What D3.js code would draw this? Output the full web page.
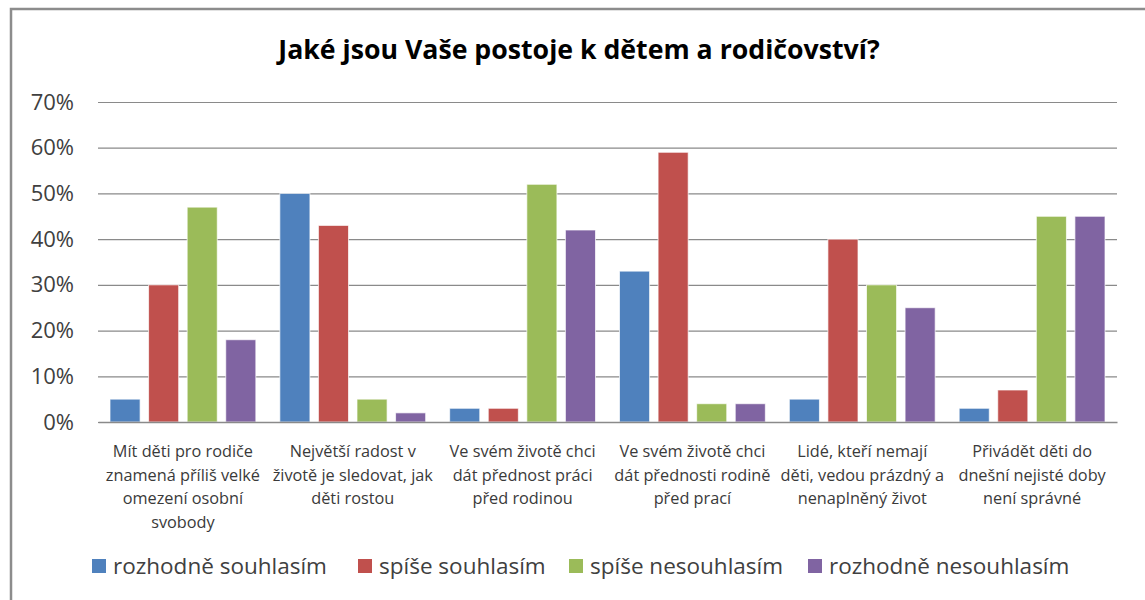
<!DOCTYPE html>
<html>
<head>
<meta charset="utf-8">
<script src="https://cdn.jsdelivr.net/npm/d3@7"></script>
<style>
  body { margin: 0; background: #fff; }
  svg { display: block; font-family: "Open Sans", Lato, sans-serif; }
</style>
</head>
<body>
<svg id="chart" width="1145" height="600"></svg>
<script>
// chart data
const title = "Jaké jsou Vaše postoje k dětem a rodičovství?";
const categories = [
    "Mít děti pro rodiče\nznamená příliš velké\nomezení osobní\nsvobody",
    "Největší radost v\nživotě je sledovat, jak\nděti rostou",
    "Ve svém životě chci\ndát přednost práci\npřed rodinou",
    "Ve svém životě chci\ndát přednosti rodině\npřed prací",
    "Lidé, kteří nemají\nděti, vedou prázdný a\nnenaplněný život",
    "Přivádět děti do\ndnešní nejisté doby\nnení správné"
];
const seriesNames = ["rozhodně souhlasím", "spíše souhlasím", "spíše nesouhlasím", "rozhodně nesouhlasím"];
const rozhodneSouhlasim   = [0.05, 0.50, 0.03, 0.33, 0.05, 0.03];
const spiseSouhlasim      = [0.30, 0.43, 0.03, 0.59, 0.40, 0.07];
const spiseNesouhlasim    = [0.47, 0.05, 0.52, 0.04, 0.30, 0.45];
const rozhodneNesouhlasim = [0.18, 0.02, 0.42, 0.04, 0.25, 0.45];
const yTicks = [0, 0.1, 0.2, 0.3, 0.4, 0.5, 0.6, 0.7];

const seriesValues = [rozhodneSouhlasim, spiseSouhlasim, spiseNesouhlasim, rozhodneNesouhlasim];
const colors = ["#4F81BD", "#C0504D", "#9BBB59", "#8064A2"];

const margin = {top: 102, right: 28, bottom: 178, left: 98};
const W = 1145, H = 600;
const width = W - margin.left - margin.right;
const height = H - margin.top - margin.bottom;

const svg = d3.select("#chart");

// outer chart border (runs off the right and bottom edges)
svg.append("path")
    .attr("d", "M11,620 L11,9 L1160,9")
    .attr("fill", "none")
    .attr("stroke", "#8c8c8c")
    .attr("stroke-width", 2.5);

svg.append("text")
    .attr("x", 579)
    .attr("y", 59)
    .attr("text-anchor", "middle")
    .attr("font-size", 26.7)
    .attr("font-weight", "bold")
    .attr("fill", "#000")
    .text(title);

const g = svg.append("g")
    .attr("transform", `translate(${margin.left},${margin.top})`);

const x0 = d3.scaleBand().domain(d3.range(categories.length)).range([0, width]);
const x1 = d3.scaleBand().domain(d3.range(seriesNames.length))
    .range([12, x0.bandwidth() - 12]).paddingInner(0.22);
const y = d3.scaleLinear().domain([0, 0.7]).range([height, 0]);

// gridlines
g.append("g")
    .call(d3.axisLeft(y).tickValues(yTicks).tickSize(-width).tickFormat(""))
    .call(s => s.select(".domain").remove())
    .call(s => s.selectAll("line").attr("stroke", "#8a8a8a").attr("stroke-width", 1.2));

// y tick labels
g.append("g")
    .call(d3.axisLeft(y).tickValues(yTicks).tickSize(0).tickPadding(24).tickFormat(d3.format(".0%")))
    .call(s => s.select(".domain").remove())
    .call(s => s.selectAll("text")
        .attr("font-family", "'Open Sans', sans-serif")
        .attr("font-size", 22)
        .attr("fill", "#404040"));

// bars
const groups = g.selectAll(".grp")
    .data(categories)
    .join("g")
    .attr("class", "grp")
    .attr("transform", (d, i) => `translate(${x0(i)},0)`);

groups.selectAll("rect")
    .data((d, i) => seriesValues.map((vals, s) => ({s: s, v: vals[i]})))
    .join("rect")
    .attr("x", d => x1(d.s))
    .attr("width", x1.bandwidth())
    .attr("y", d => y(d.v))
    .attr("height", d => height - y(d.v))
    .attr("fill", d => colors[d.s])
    .attr("stroke", "#fff")
    .attr("stroke-opacity", 0.7)
    .attr("stroke-width", 1);

// x axis line
g.append("g")
    .attr("transform", `translate(0,${height})`)
    .call(d3.axisBottom(x0).tickSize(0).tickFormat(""))
    .call(s => s.select(".domain").attr("stroke", "#8a8a8a").attr("stroke-width", 1.5));

// category labels
const labels = g.selectAll(".cat")
    .data(categories)
    .join("text")
    .attr("class", "cat")
    .attr("text-anchor", "middle")
    .attr("font-size", 16.3)
    .attr("fill", "#3a3a3a")
    .attr("transform", (d, i) => `translate(${x0(i) + x0.bandwidth() / 2},${height + 35})`);
labels.selectAll("tspan")
    .data(d => d.split("\n"))
    .join("tspan")
    .attr("x", 0)
    .attr("dy", (d, i) => i === 0 ? 0 : 23.5)
    .text(d => d);

// legend
const legendX = [92, 358, 569, 808];
const legend = svg.append("g")
    .selectAll("g")
    .data(seriesNames)
    .join("g")
    .attr("transform", (d, i) => `translate(${legendX[i]},559)`);
legend.append("rect")
    .attr("width", 14)
    .attr("height", 14)
    .attr("fill", (d, i) => colors[i]);
legend.append("text")
    .attr("x", 21)
    .attr("y", 15)
    .attr("font-size", 22.5)
    .attr("fill", "#404040")
    .text(d => d);
</script>
</body>
</html>
